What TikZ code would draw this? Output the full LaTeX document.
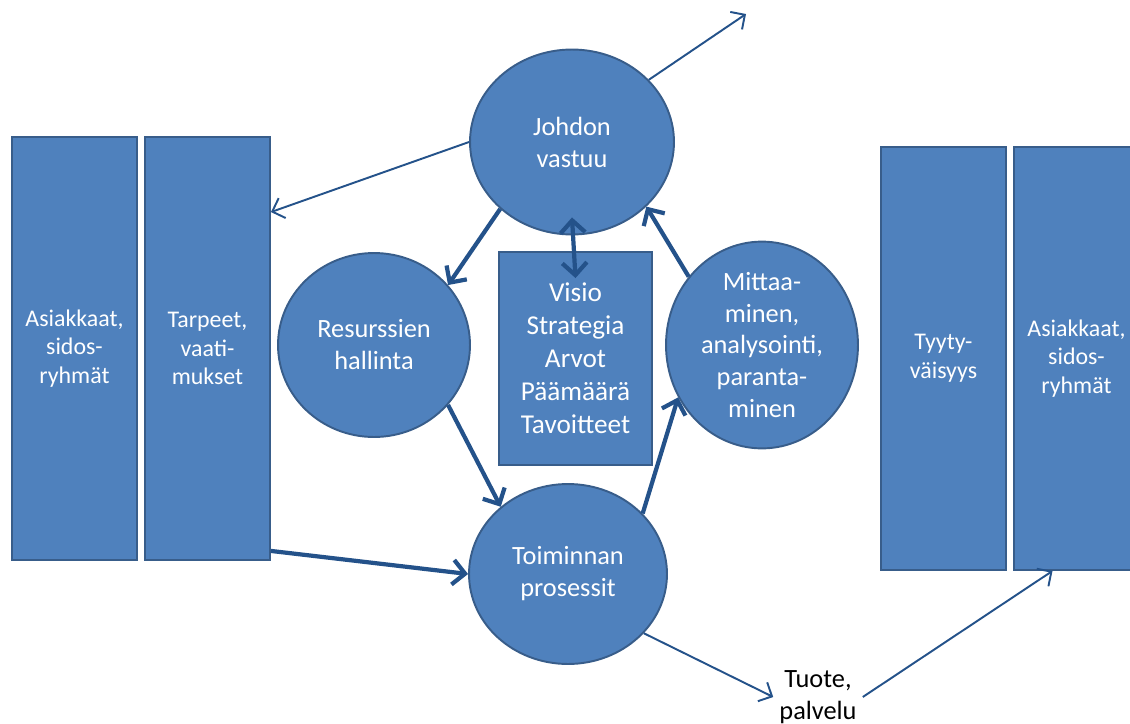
\documentclass[tikz,border=0pt]{standalone}
\usepackage{fontspec}
\setmainfont{Carlito}
\usepackage{tikz}
\usetikzlibrary{shapes.geometric,arrows.meta}
\definecolor{laatusin}{HTML}{4F81BD}
\definecolor{laatureuna}{HTML}{385D8A}
\definecolor{laatunuoli}{HTML}{24528A}

\begin{document}
\begin{tikzpicture}[x=0.02cm,y=-0.02cm,
        pallo/.style={ellipse, draw=laatureuna, line width=1.1pt, fill=laatusin, text=white, align=center, font=\fontsize{15}{18.2}\selectfont, inner sep=0pt},
        palkki/.style={rectangle, draw=laatureuna, line width=1.1pt, fill=laatusin, text=white, align=center, font=\fontsize{13.6}{16.4}\selectfont, minimum width=2.5cm, minimum height=8.46cm, inner sep=0pt},
        ohut/.style={draw=laatunuoli, line width=1.1pt, -{Straight Barb[length=6pt,width=12pt]}},
        paksu/.style={draw=laatunuoli, line width=2.4pt, -{Straight Barb[length=7pt,width=14pt]}}]
        \useasboundingbox (0,0) rectangle (1130,724);
        % asiakkaat ja tarpeet
        \node[palkki] (asiakkaat) at (74.5,348.5) {Asiakkaat,\\sidos-\\ryhmät};
        \node[palkki] (tarpeet) at (207.5,348.5) {Tarpeet,\\vaati-\\mukset};
        \node[palkki] (tyytyvaisyys) at (943.5,358.5) {Tyyty-\\väisyys};
        \node[palkki] (asiakkaat2) at (1076.5,358.5) {Asiakkaat,\\sidos-\\ryhmät};
        % prosessit
        \node[pallo, minimum width=4.08cm, minimum height=3.7cm] (johdon) at (572,142) {Johdon\\vastuu};
        \node[pallo, minimum width=3.84cm, minimum height=3.68cm] (resurssit) at (374,345) {Resurssien\\hallinta};
        \node[pallo, minimum width=3.84cm, minimum height=3.68cm] (mittaaminen) at (762,345) {Mittaa-\\minen,\\analysointi,\\paranta-\\minen};
        \node[pallo, minimum width=3.96cm, minimum height=3.6cm] (toiminnan) at (568,574) {Toiminnan\\prosessit};
        \node[rectangle, draw=laatureuna, line width=1.1pt, fill=laatusin, text=white, align=center, font=\fontsize{15.5}{18.8}\selectfont, minimum width=3.06cm, minimum height=4.26cm] (visio) at (575.5,358.5) {Visio\\Strategia\\Arvot\\Päämäärä\\Tavoitteet};
        \node[align=center, font=\fontsize{15}{18.2}\selectfont] (tuote) at (818,697) {Tuote,\\palvelu};
        \coordinate (ylos) at (746,14);
        % nuolet
        \draw[ohut] (johdon.39) -- (ylos);
        \draw[ohut] (johdon.180) -- ([yshift=-1.52cm]tarpeet.north east);
        \draw[paksu] (johdon.223) -- (resurssit.39);
        \draw[paksu, {Straight Barb[length=7pt,width=14pt]}-{Straight Barb[length=7pt,width=14pt]}] ([yshift=0.36cm]johdon.south) -- ([yshift=-0.54cm]visio.north);
        \draw[paksu] (mittaaminen.137) -- (johdon.319);
        \draw[paksu] (resurssit.-39) -- (toiminnan.135);
        \draw[paksu] (toiminnan.39) -- (mittaaminen.212);
        \draw[paksu] ([yshift=0.2cm]tarpeet.south east) -- (toiminnan.180);
        \draw[ohut] (toiminnan.-38) -- (tuote.west);
        \draw[ohut] (tuote.east) -- ([xshift=-0.48cm]asiakkaat2.south);
    \end{tikzpicture}
\end{document}
